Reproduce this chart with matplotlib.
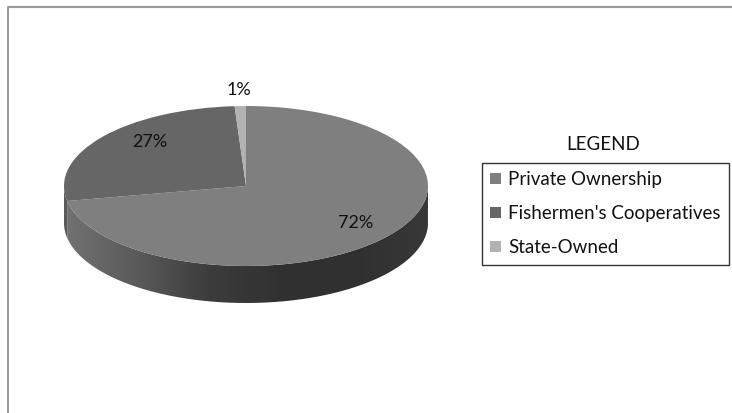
import numpy as np
import matplotlib.pyplot as plt
from matplotlib.path import Path
from matplotlib.patches import PathPatch
from matplotlib.colors import LinearSegmentedColormap

plt.rcParams['font.family'] = ['Lato', 'DejaVu Sans']

labels = ["Private Ownership", "Fishermen's Cooperatives", "State-Owned"]
shares = [72, 27, 1]
top_colors = ["#7f7f7f", "#666666", "#b2b2b2"]
side_colors = ["#6e6e6e", "#5a5a5a", "#8c8c8c"]

W, H = 732, 413
fig = plt.figure(figsize=(W / 100, H / 100), dpi=100)

# chart frame (pixel coordinates)
bg = fig.add_axes([0, 0, 1, 1])
bg.set_xlim(0, W)
bg.set_ylim(H, 0)
bg.axis("off")
bg.plot([7.5, 7.5, W], [H, 7, 7], color="#9a9a9a", lw=1.5)

# pie: ellipse centre and radii in pixels, plus the side depth
cx, cy, rx, ry, depth = 246, 186, 182, 80, 37
d = depth / ry
left, right = cx - rx, cx + rx
top, bottom = cy - ry, cy + ry + depth
ax = fig.add_axes([left / W, (H - bottom) / H, (right - left) / W, (bottom - top) / H])

# side wall of the cylinder, only the front half is visible
side_cmap = LinearSegmentedColormap.from_list(
    "side", ["#727272", "#5a5a5a", "#3c3c3c", "#313131", "#303030", "#383838"])
grad = np.linspace(0, 1, 256).reshape(1, -1)
angles = np.cumsum([0] + shares) / sum(shares) * 360.0
for i in range(len(shares)):
    a0 = 90 - angles[i + 1]
    a1 = 90 - angles[i]
    # keep only the part in the lower half (180..360 deg)
    segs = []
    for off in (-360, 0, 360):
        lo, hi = max(a0 + off, 180), min(a1 + off, 360)
        if hi > lo:
            segs.append((lo, hi))
    for lo, hi in segs:
        t = np.radians(np.linspace(lo, hi, 120))
        xs = np.concatenate([np.cos(t), np.cos(t[::-1])])
        ys = np.concatenate([np.sin(t), np.sin(t[::-1]) - d])
        patch = PathPatch(Path(np.column_stack([xs, ys])), facecolor="none",
                          edgecolor="none")
        ax.add_patch(patch)
        if i == 0:
            im = ax.imshow(grad, cmap=side_cmap, extent=[-1, 1, -1 - d, 0],
                           aspect="auto", zorder=1)
            im.set_clip_path(patch)
        else:
            patch.set_facecolor(side_colors[i])
            patch.set_zorder(1)

wedges, texts, autotexts = ax.pie(
    shares, colors=top_colors, startangle=90, counterclock=False,
    radius=1, autopct="%1.0f%%", pctdistance=0.72,
    textprops=dict(fontsize=13, color="#111111"), frame=True,
    wedgeprops=dict(linewidth=0))
ax.set_xlim(-1, 1)
ax.set_ylim(-1 - d, 1)
ax.set_aspect("auto")
ax.axis("off")
for w in wedges:
    w.set_zorder(2)
for t in autotexts:
    t.set_zorder(3)

# small slice label sits above the rim
mid = np.radians(90 - (angles[2] + angles[3]) / 2)
autotexts[2].set_position((np.cos(mid) * 1.2, np.sin(mid) * 1.2))
autotexts[0].set_position((0.60, -0.46))
autotexts[1].set_position((-0.53, 0.55))

# legend
bg.text(603, 145, "LEGEND", fontsize=13.5, ha="center", va="center", color="#111111")
leg = fig.legend(wedges, labels, loc="upper left",
                 bbox_to_anchor=(482 / W, 1 - 163 / H),
                 fontsize=13.5, frameon=True, fancybox=False, edgecolor="#000000",
                 handlelength=0.55, handleheight=0.55, handletextpad=0.4,
                 labelspacing=0.9, borderpad=0.45, borderaxespad=0)
leg.get_frame().set_linewidth(1.0)
for txt in leg.get_texts():
    txt.set_color("#111111")

fig.savefig("out.png", dpi=100)
